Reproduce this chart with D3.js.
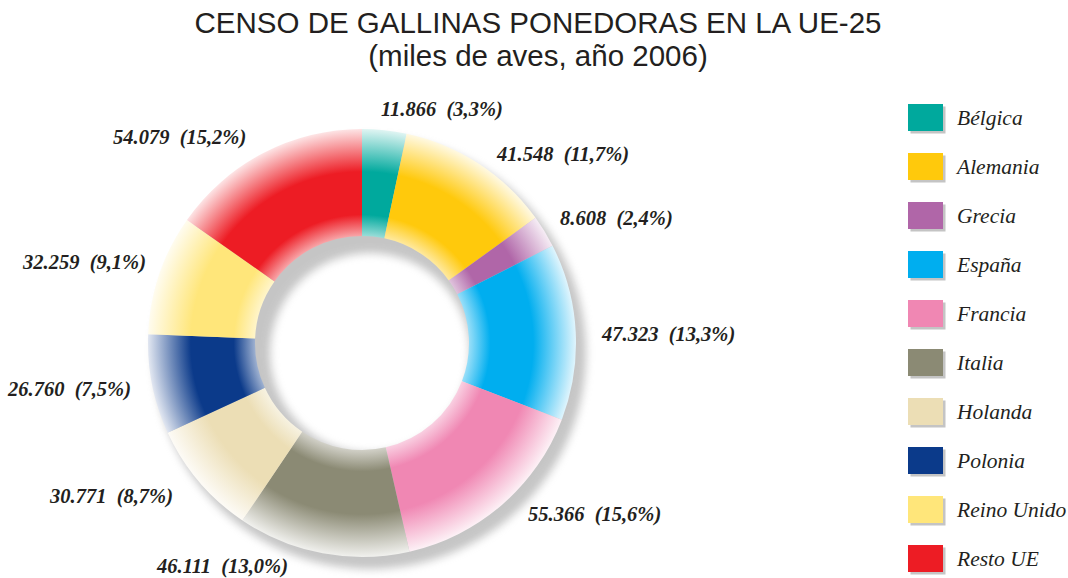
<!DOCTYPE html>
<html><head><meta charset="utf-8">
<script src="https://cdn.jsdelivr.net/npm/d3@7"></script>
<style>
html,body{margin:0;padding:0;background:#fff;}
svg{display:block;}
text{white-space:pre;}
</style></head>
<body>
<svg id="chart" width="1068" height="578"></svg>
<script>
// ---- data ----
const countries = ["Bélgica","Alemania","Grecia","España","Francia","Italia","Holanda","Polonia","Reino Unido","Resto UE"];
const values = [11866, 41548, 8608, 47323, 55366, 46111, 30771, 26760, 32259, 54079];
const valueLabels = ["11.866","41.548","8.608","47.323","55.366","46.111","30.771","26.760","32.259","54.079"];
const percentLabels = ["(3,3%)","(11,7%)","(2,4%)","(13,3%)","(15,6%)","(13,0%)","(8,7%)","(7,5%)","(9,1%)","(15,2%)"];
const colors = ["#00a99d","#ffc90c","#b066a8","#00aeef","#f087b3","#8b8a74","#ecdeb5","#0b3a8a","#ffe67a","#ed1c24"];

// ---- layout ----
const W = 1068, H = 578;
const cx = 362, cy = 343, R = 214, r0 = 107;
// label anchor (text start x, baseline y) per slice
const labelPos = [[381,116],[497,161],[560,225],[602,341],[528,521],[157,573],[50,503],[8,396],[23,269],[113,144]];

const svg = d3.select("#chart");
const defs = svg.append("defs");

const blur = defs.append("filter").attr("id","shadowBlur")
  .attr("x","-20%").attr("y","-20%").attr("width","140%").attr("height","140%");
blur.append("feGaussianBlur").attr("stdDeviation",4);

function mix(c, t){ return d3.interpolateRgb(c, "#ffffff")(t); }

colors.forEach((c,i)=>{
  const g = defs.append("radialGradient").attr("id","grad"+i)
    .attr("gradientUnits","userSpaceOnUse").attr("cx",0).attr("cy",0).attr("r",R);
  const a = r0/R, t = (R-r0)/R;
  const stops = [[a, mix(c,0.6)],[a+0.2*t, c],[a+0.6*t, c],[1, mix(c,0.88)]];
  stops.forEach(s=>g.append("stop").attr("offset",s[0]).attr("stop-color",s[1]));
});

// title
const title = svg.append("g").attr("fill","#231f20")
  .attr("font-family","'Liberation Sans', Arial, sans-serif").attr("font-size",29.5)
  .attr("text-anchor","middle");
title.append("text").attr("x",538).attr("y",33).text("CENSO DE GALLINAS PONEDORAS EN LA UE-25");
title.append("text").attr("x",538).attr("y",66).text("(miles de aves, año 2006)");

// pie
const pie = d3.pie().sort(null).value(d=>d)(values);
const arc = d3.arc().innerRadius(r0).outerRadius(R);

// shadow ring
const shadowArc = d3.arc().innerRadius(100).outerRadius(R+2).startAngle(0).endAngle(2*Math.PI);
svg.append("path").attr("transform",`translate(${cx+8},${cy+10})`)
  .attr("d",shadowArc()).attr("fill","#8c8c8c").attr("opacity",0.5)
  .attr("filter","url(#shadowBlur)");

const g = svg.append("g").attr("transform",`translate(${cx},${cy})`);
g.selectAll("path.slice").data(pie).join("path").attr("class","slice")
  .attr("d",arc).attr("fill",(d,i)=>`url(#grad${i})`);

// labels
const lab = svg.append("g").attr("fill","#231f20")
  .attr("font-family","'Liberation Serif','Times New Roman',serif")
  .attr("font-size",20.5).attr("font-weight","bold").attr("font-style","italic");
lab.selectAll("text").data(pie).join("text")
  .attr("x",(d,i)=>labelPos[i][0]).attr("y",(d,i)=>labelPos[i][1])
  .text((d,i)=>valueLabels[i]+"  "+percentLabels[i]);

// legend
const legendY = d3.scaleBand().domain(countries).range([94, 584]);
const leg = svg.append("g");
const items = leg.selectAll("g").data(countries).join("g")
  .attr("transform",d=>`translate(908,${legendY(d)+10})`);
items.append("rect").attr("x",2.5).attr("y",2.5).attr("width",35).attr("height",27).attr("fill","#c4c4c4");
items.append("rect").attr("width",35).attr("height",27).attr("fill",(d,i)=>colors[i]);
items.append("text").attr("x",49).attr("y",21)
  .attr("font-family","'Liberation Serif','Times New Roman',serif")
  .attr("font-size",21.5).attr("font-style","italic").attr("fill","#231f20")
  .text(d=>d);
</script>
</body></html>
